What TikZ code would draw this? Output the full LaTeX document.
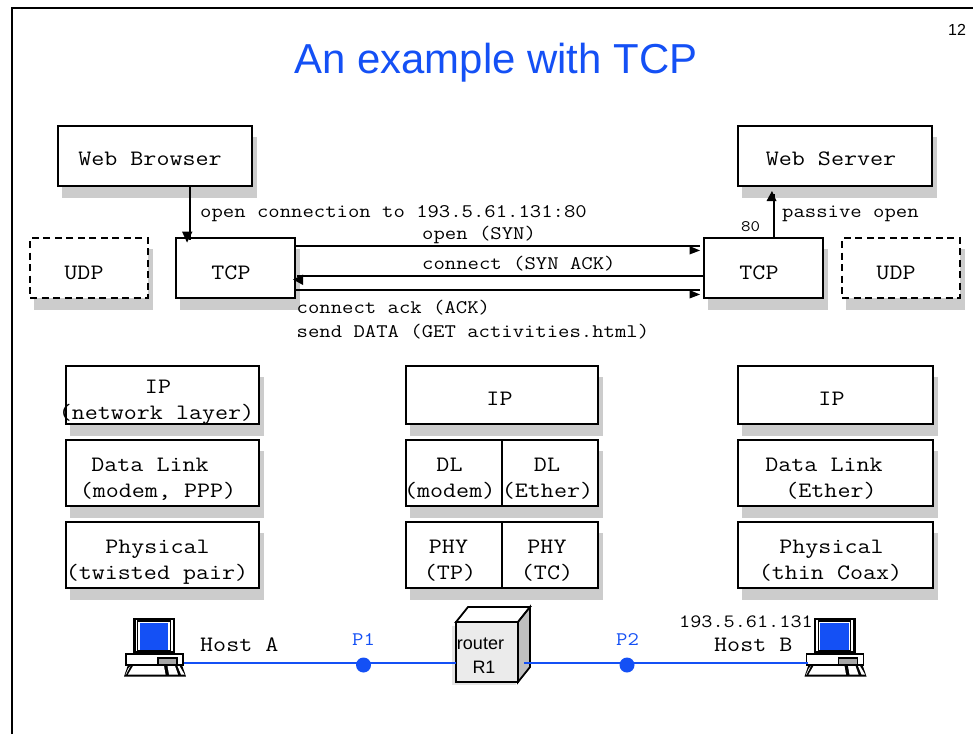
\documentclass[tikz,border=0pt]{standalone}
\usepackage{fontspec}
\setmainfont{Liberation Sans}
\setmonofont[FakeStretch=1.15]{Latin Modern Mono}
\usetikzlibrary{arrows.meta}
\definecolor{tblue}{HTML}{1450F5}
\definecolor{shad}{HTML}{CCCCCC}
\newcommand{\boxat}[6][]{%
 \pgfmathsetmacro\bw{#5-#3}\pgfmathsetmacro\bh{#6-#4}%
 \fill[shad] (#3+4,#4+11) rectangle (#5+5,#6+12);
 \node[boxst,minimum width=\bw pt,minimum height=\bh pt,#1] (#2) at (#3,#4) {};
}
\newcommand{\pc}[2]{%
\begin{scope}[shift={(#1,#2)}]
 \fill[black] (8,0) rectangle (50,36);
 \fill[white] (10.5,2) rectangle (12,33);
 \fill[white] (45.5,2) rectangle (47.5,33);
 \fill[white] (13,3.5) rectangle (44.5,32);
 \fill[tblue] (14.5,5) rectangle (43,32);
 \draw[black,line width=1.8,fill=white] (1,36) rectangle (58,47);
 \draw[black,line width=1.4,fill=gray!70] (33,40) rectangle (52,47);
 \fill[black] (-1,58.5) -- (3,47) -- (57,47) -- (61,58.5) -- cycle;
 \fill[white] (8,48) -- (39,48) -- (40.5,56.5) -- (3,56.5) -- cycle;
 \fill[white] (3.5,50) -- (5.5,48) -- (1,56.5) -- (0.5,56.5) -- cycle;
 \fill[white] (42.5,48) -- (50,48) -- (53,56.5) -- (44,56.5) -- cycle;
 \fill[white] (52.5,48) -- (54.5,48) -- (59.5,56.5) -- (56,56.5) -- cycle;
\end{scope}}
\tikzset{
 boxst/.style={draw=black,line width=1.8,fill=white,anchor=north west,outer sep=0,inner sep=0},
 dsh/.style={dash pattern=on 7 off 4.5},
 lbl/.style={inner sep=0,anchor=base,font=\ttfamily\fontsize{22}{24}\selectfont},
 sm/.style={inner sep=0,anchor=base west,font=\ttfamily\fontsize{19.2}{22}\selectfont},
 ln/.style={black,line width=1.8},
 blueln/.style={tblue,line width=1.8},
 heada/.style={fill=black}}
\begin{document}
\begin{tikzpicture}[x=1pt,y=-1pt]
\useasboundingbox (0,0) rectangle (973,734);
\draw[black,line width=1.8] (12,734) -- (12,8) -- (973,8);
\node[inner sep=0,anchor=base,text=tblue,font=\fontsize{41.9}{46}\selectfont] (title) at (496,73) {An example with TCP};
\node[inner sep=0,anchor=base,font=\fontsize{16}{18}\selectfont] (pg) at (957,35) {12};
% top boxes
\boxat{wb}{58}{126}{252}{186}
\node[lbl] (wbt) at (150,165) {Web Browser};
\boxat{ws}{738}{126}{932}{186}
\node[lbl] (wst) at (831,165) {Web Server};
\boxat[dsh]{u1}{30}{238}{148}{298}
\node[lbl] (u1t) at (84,279) {UDP};
\boxat{t1}{176}{238}{295}{298}
\node[lbl] (t1t) at (231,279) {TCP};
\boxat{t2}{704}{238}{823}{298}
\node[lbl] (t2t) at (759,279) {TCP};
\boxat[dsh]{u2}{842}{238}{960}{298}
\node[lbl] (u2t) at (896,279) {UDP};
% stacks
\boxat{ip1}{66}{366}{259}{424}
\node[lbl] (ip1t) at (158,393) {IP};
\node[lbl] (ip1u) at (156.5,419) {(network layer)};
\boxat{ip2}{406}{366}{598}{424}
\node[lbl] (ip2t) at (499.5,405) {IP};
\boxat{ip3}{738}{366}{933}{424}
\node[lbl] (ip3t) at (831.5,405) {IP};
\boxat{dl1}{66}{440}{259}{506}
\node[lbl] (dl1t) at (150,471) {Data Link};
\node[lbl] (dl1u) at (158,497) {(modem, PPP)};
\boxat{dl2}{406}{440}{598}{506}
\draw[ln] (dl2.north) -- (dl2.south);
\node[lbl] (dl2at) at (449.5,471) {DL};
\node[lbl] (dl2au) at (449.7,497) {(modem)};
\node[lbl] (dl2bt) at (547,471) {DL};
\node[lbl] (dl2bu) at (547.5,497) {(Ether)};
\boxat{dl3}{738}{440}{933}{506}
\node[lbl] (dl3t) at (824,471) {Data Link};
\node[lbl] (dl3u) at (831,497) {(Ether)};
\boxat{ph1}{66}{522}{259}{588}
\node[lbl] (ph1t) at (157.5,553) {Physical};
\node[lbl] (ph1u) at (157,579) {(twisted pair)};
\boxat{ph2}{406}{522}{598}{588}
\draw[ln] (ph2.north) -- (ph2.south);
\node[lbl] (ph2at) at (448.5,553) {PHY};
\node[lbl] (ph2au) at (450,579) {(TP)};
\node[lbl] (ph2bt) at (547,553) {PHY};
\node[lbl] (ph2bu) at (547,579) {(TC)};
\boxat{ph3}{738}{522}{933}{588}
\node[lbl] (ph3t) at (831.5,553) {Physical};
\node[lbl] (ph3u) at (830.5,579) {(thin Coax)};
% connectors
\draw[ln] ([xshift=132pt]wb.south west) -- ([xshift=14pt,yshift=-2pt]t1.north west);
\fill[heada] (182,231.5) -- (192.5,231.5) -- (187,242.5) -- cycle;
\draw[ln] ([xshift=70pt]t2.north west) -- ([xshift=36pt,yshift=-8pt]ws.south west);
\fill[heada] (766.5,201) -- (776.5,201) -- (772,191) -- cycle;
\draw[ln] ([yshift=-8pt]t1.north east) -- ([xshift=-4pt,yshift=-8pt]t2.north west);
\fill[heada] (689.5,246) -- (689.5,254.5) -- (700,250.5) -- cycle;
\draw[ln] ([yshift=-38pt]t2.north west) -- ([yshift=-38pt,xshift=2pt]t1.north east);
\fill[heada] (303,274.5) -- (303,285) -- (293,279.5) -- cycle;
\draw[ln] ([yshift=-52pt]t1.north east) -- ([xshift=-4pt,yshift=-52pt]t2.north west);
\fill[heada] (689.5,290) -- (689.5,298.5) -- (700,294.5) -- cycle;
\node[sm] (lo) at (200,217) {open connection to 193.5.61.131:80};
\node[sm] (lsyn) at (422,239) {open (SYN)};
\node[sm] (lsa) at (422,269) {connect (SYN ACK)};
\node[sm] (la) at (296.5,313) {connect ack (ACK)};
\node[sm] (ls) at (296.5,337) {send DATA (GET activities.html)};
\node[sm,font=\ttfamily\fontsize{16}{20}\selectfont] (l80) at (741,231) {80};
\node[sm] (lp) at (782,217) {passive open};
% bottom
\pc{125}{618}
\pc{805.5}{618}
% router
\fill[shad!50] (452,626) rectangle (456,685);
\fill[shad!50] (452,682) rectangle (516,685);
\draw[ln] (456,622) -- (468,607) -- (530,607) -- (518,622) -- cycle;
\draw[ln,fill=gray!50] (518,622) -- (530,607) -- (530,667) -- (518,682) -- cycle;
\node[draw=black,line width=1.8,fill=gray!16,outer sep=0,inner sep=0,minimum width=62pt,minimum height=60pt,anchor=north west] (rt) at (456,622) {};
\node[inner sep=0,anchor=base,font=\fontsize{18}{21}\selectfont] (r1) at (480.5,649) {router};
\node[inner sep=0,anchor=base,font=\fontsize{18}{21}\selectfont] (r2) at (484,673) {R1};
% network
\coordinate (pa) at (184,663);
\coordinate (pb) at (808,663);
\draw[blueln] (pa) -- ([yshift=-41pt]rt.north west);
\draw[blueln] ([xshift=6pt,yshift=-41pt]rt.north east) -- (pb);
\node[circle,fill=tblue,inner sep=0,minimum size=15pt] (d1) at (363.5,665) {};
\node[circle,fill=tblue,inner sep=0,minimum size=15pt] (d2) at (627,665) {};
\node[sm,text=tblue] (p1) at (352,645) {P1};
\node[sm,text=tblue] (p2) at (616,645) {P2};
\node[lbl,anchor=base west] (ha) at (200,651) {Host A};
\node[lbl,anchor=base west] (hb) at (714,651) {Host B};
\node[sm,font=\ttfamily\fontsize{18.8}{20}\selectfont] (ipb) at (679,627) {193.5.61.131};
\end{tikzpicture}
\end{document}
